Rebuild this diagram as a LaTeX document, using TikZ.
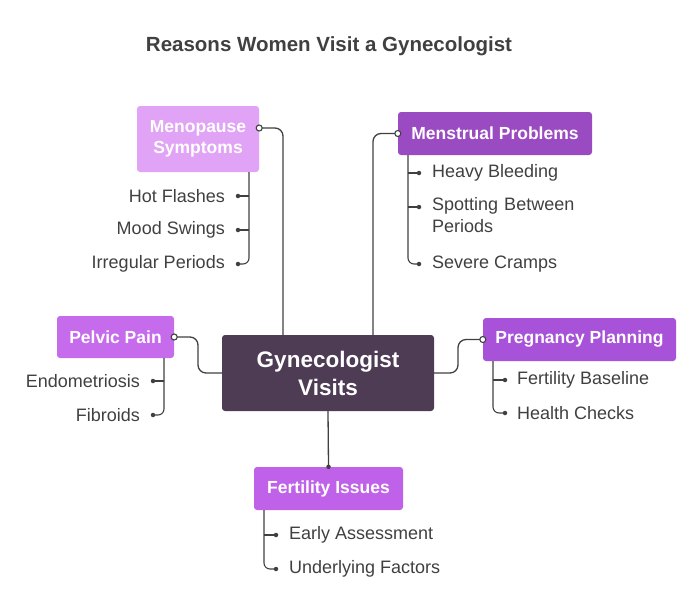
\documentclass[tikz,border=0pt]{standalone}
\usepackage{fontspec}
\setmainfont{Liberation Sans}
\begin{document}
\begin{tikzpicture}[x=1pt,y=-1pt,
 box/.style={rounded corners=3pt,draw=none,text=white,font=\fontsize{17.5}{21}\selectfont\bfseries,align=center,inner sep=0pt},
 leaf/.style={text=black!75,font=\fontsize{18}{22}\selectfont,inner sep=0pt},
 ln/.style={draw=black!75,line width=1.3pt,rounded corners=8pt},
 lf/.style={draw=black!75,line width=1.1pt,rounded corners=6pt},
 dot/.style={circle,fill=black!75,inner sep=0pt,minimum size=4.5pt},
 odot/.style={circle,draw=black!75,fill=white,line width=1.1pt,inner sep=0pt,minimum size=6pt}]
\useasboundingbox (0,0) rectangle (700,589);
\definecolor{cen}{HTML}{4E3B54}
\definecolor{meno}{HTML}{E1A3F5}
\definecolor{mens}{HTML}{9A4BC2}
\definecolor{pelv}{HTML}{C56BEC}
\definecolor{preg}{HTML}{A752D8}
\definecolor{fert}{HTML}{C062E9}
\node[text=black!75,font=\fontsize{20.5}{24}\selectfont\bfseries] (title) at (329,46) {Reasons Women Visit a Gynecologist};
% boxes
\node[box,fill=cen,minimum width=212pt,minimum height=76pt,font=\fontsize{22.5}{28}\selectfont\bfseries] (c) at (328,373) {Gynecologist\\Visits};
\node[box,fill=meno,minimum width=122pt,minimum height=66pt] (meno) at (198,139) {Menopause\\Symptoms};
\node[box,fill=mens,minimum width=194pt,minimum height=43pt] (mens) at (495,133.5) {Menstrual Problems};
\node[box,fill=pelv,minimum width=117pt,minimum height=42pt] (pelv) at (115.5,337) {Pelvic Pain};
\node[box,fill=preg,minimum width=193pt,minimum height=43pt] (preg) at (579.5,339.5) {Pregnancy Planning};
\node[box,fill=fert,minimum width=149pt,minimum height=43pt] (fert) at (328.5,488.5) {Fertility Issues};
% connectors
\coordinate (m1) at (283,335);
\coordinate (m2) at (373,335);
\coordinate (mp) at (meno.east |- 0,128);
\draw[ln] (m1) |- (mp);
\draw[ln] (m2) |- (mens.west);
\draw[ln] (c.west) -- (198,373) |- (pelv.east);
\draw[ln] (c.east) -- (458,373) |- (preg.west);
\draw[ln] (c.south) -- (fert.north);
\node[odot] at (mp) {};
\node[odot] at (mens.west) {};
\node[odot] at (pelv.east) {};
\node[odot] at (preg.west) {};
\node[dot] at (fert.north) {};
% menopause leaves
\node[leaf,anchor=east] (a1) at (225,196) {Hot Flashes};
\node[leaf,anchor=east] (a2) at (225,230) {Mood Swings};
\node[leaf,anchor=east] (a3) at (225,264) {Irregular Periods};
\draw[lf] (249,172) |- (238,264);
\draw[lf] (249,196) -- (238,196);
\draw[lf] (249,230) -- (238,230);
\foreach \y in {196,230,264} \node[dot] at (238,\y) {};
% menstrual leaves
\node[leaf,anchor=west] (b1) at (432,173) {Heavy Bleeding};
\node[leaf,anchor=north west,align=left,text width=170pt] (b2) at (432,197) {Spotting Between\\Periods};
\node[leaf,anchor=west] (b3) at (432,264) {Severe Cramps};
\draw[lf] (408,155) |- (419,264);
\draw[lf] (408,173) -- (419,173);
\draw[lf] (408,207) -- (419,207);
\foreach \y in {173,207,264} \node[dot] at (419,\y) {};
% pelvic leaves
\node[leaf,anchor=east] (p1) at (140,381) {Endometriosis};
\node[leaf,anchor=east] (p2) at (140,415) {Fibroids};
\draw[lf] (164,358) |- (153,415);
\draw[lf] (164,381) -- (153,381);
\foreach \y in {381,415} \node[dot] at (153,\y) {};
% pregnancy leaves
\node[leaf,anchor=west] (g1) at (517,380) {Fertility Baseline};
\node[leaf,anchor=west] (g2) at (517,413) {Health Checks};
\draw[lf] (493,361) |- (505,413);
\draw[lf] (493,380) -- (505,380);
\foreach \y in {380,413} \node[dot] at (505,\y) {};
% fertility leaves
\node[leaf,anchor=west] (f1) at (289,535) {Early Assessment};
\node[leaf,anchor=west] (f2) at (289,569) {Underlying Factors};
\draw[lf] (264,510) |- (276,569);
\draw[lf] (264,535) -- (276,535);
\foreach \y in {535,569} \node[dot] at (276,\y) {};
\end{tikzpicture}
\end{document}
